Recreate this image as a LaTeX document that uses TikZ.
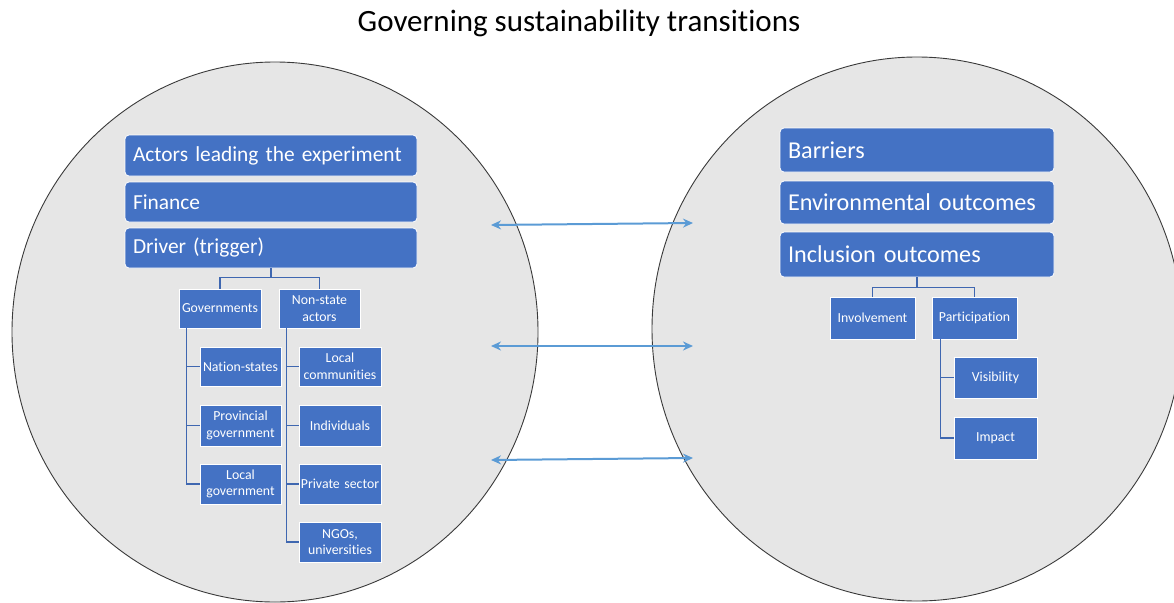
\documentclass[tikz,border=0pt]{standalone}
\usepackage{fontspec}
\setmainfont{Carlito}[Ligatures=NoCommon]
\usetikzlibrary{arrows.meta}
\definecolor{boxblue}{HTML}{4472C4}
\definecolor{linkblue}{HTML}{3F67B0}
\definecolor{arrblue}{HTML}{5B9BD5}
\definecolor{circfill}{HTML}{E6E6E6}
\definecolor{circline}{HTML}{3A3A3A}
\tikzset{
  circ/.style={fill=circfill, draw=circline, line width=0.9pt},
  bigbox/.style={fill=boxblue, draw=white, line width=0.8pt, rounded corners=4pt,
    text=white, align=left, inner xsep=8pt, inner ysep=0pt},
  smallbox/.style={fill=boxblue, draw=white, line width=0.8pt, text=white,
    align=center, inner xsep=0pt, inner ysep=0pt,
    font=\fontsize{13.8}{16.5}\selectfont},
  link/.style={draw=linkblue, line width=1.3pt},
  arr/.style={draw=arrblue, line width=2pt, {Stealth[length=10pt,width=9pt]}-{Stealth[length=10pt,width=9pt]}}
}
\begin{document}
\begin{tikzpicture}[x=1pt,y=-1pt]
\useasboundingbox (0,0) rectangle (1174,602);
\clip (0,0) rectangle (1174,602);
% title
\node[anchor=base, font=\fontsize{31}{36}\selectfont] (title) at (579,32) {Governing sustainability transitions};
% circles
\path[circ] (275,332) ellipse [x radius=263, y radius=270];
\path[circ] (917,329) ellipse [x radius=265, y radius=272];
% left big boxes
\node[bigbox, text width=276pt, minimum height=41pt, font=\fontsize{21.4}{26}\selectfont] (act) at (271,155.5) {Actors leading the experiment};
\node[bigbox, text width=276pt, minimum height=40pt, font=\fontsize{21.4}{26}\selectfont] (fin) at (271,202) {Finance};
\node[bigbox, text width=276pt, minimum height=40pt, font=\fontsize{21.4}{26}\selectfont] (drv) at (271,248) {Driver (trigger)};
% left small boxes
\node[smallbox, text width=82pt, minimum height=39pt] (gov) at (220,308.5) {Governments};
\node[smallbox, text width=81pt, minimum height=39pt] (ns) at (319.5,308.5) {Non-state\\actors};
\node[smallbox, text width=81pt, minimum height=39pt] (nat) at (240.5,366.5) {Nation-states};
\node[smallbox, text width=81pt, minimum height=41pt] (prov) at (240.5,425.5) {Provincial\\government};
\node[smallbox, text width=81pt, minimum height=40pt] (lgov) at (240.5,484) {Local\\government};
\node[smallbox, text width=82pt, minimum height=39pt] (lcom) at (340,366.5) {Local\\communities};
\node[smallbox, text width=82pt, minimum height=41pt] (ind) at (340,425.5) {Individuals};
\node[smallbox, text width=82pt, minimum height=40pt] (ps) at (340,484) {Private sector};
\node[smallbox, text width=82pt, minimum height=40pt] (ngo) at (340,542) {NGOs,\\universities};
% right big boxes
\node[bigbox, text width=258pt, minimum height=44pt, font=\fontsize{24.2}{29}\selectfont] (bar) at (917,150) {Barriers};
\node[bigbox, text width=258pt, minimum height=43pt, font=\fontsize{24.2}{29}\selectfont] (env) at (917,202.5) {Environmental outcomes};
\node[bigbox, text width=258pt, minimum height=45pt, font=\fontsize{24.2}{29}\selectfont] (inc) at (917,254.5) {Inclusion outcomes};
% right small boxes
\node[smallbox, text width=85pt, minimum height=42pt] (inv) at (872.5,318) {Involvement};
\node[smallbox, text width=85pt, minimum height=42pt] (par) at (974.5,318) {Participation};
\node[smallbox, text width=83pt, minimum height=41pt] (vis) at (995.5,377.5) {Visibility};
\node[smallbox, text width=83pt, minimum height=42pt] (imp) at (995.5,438) {Impact};
% tree links left
\draw[link] (drv.south) -- ++(0,9) -| (gov.north);
\draw[link] (drv.south) -- ++(0,9) -| (ns.north);
\draw[link] ([xshift=8pt]gov.south west) |- (nat.west);
\draw[link] ([xshift=8pt]gov.south west) |- (prov.west);
\draw[link] ([xshift=8pt]gov.south west) |- (lgov.west);
\draw[link] ([xshift=8pt]ns.south west) |- (lcom.west);
\draw[link] ([xshift=8pt]ns.south west) |- (ind.west);
\draw[link] ([xshift=8pt]ns.south west) |- (ps.west);
\draw[link] ([xshift=8pt]ns.south west) |- (ngo.west);
% tree links right
\draw[link] (inc.south) -- ++(0,10) -| (inv.north);
\draw[link] (inc.south) -- ++(0,10) -| (par.north);
\draw[link] ([xshift=9pt]par.south west) |- (vis.west);
\draw[link] ([xshift=9pt]par.south west) |- (imp.west);
% arrows
\coordinate (a1l) at (491,225); \coordinate (a1r) at (693,223);
\coordinate (a2l) at (491,346); \coordinate (a2r) at (693,346);
\coordinate (a3l) at (491,460); \coordinate (a3r) at (693,458);
\draw[arr] (a1l) -- (a1r);
\draw[arr] (a2l) -- (a2r);
\draw[arr] (a3l) -- (a3r);
\end{tikzpicture}
\end{document}
